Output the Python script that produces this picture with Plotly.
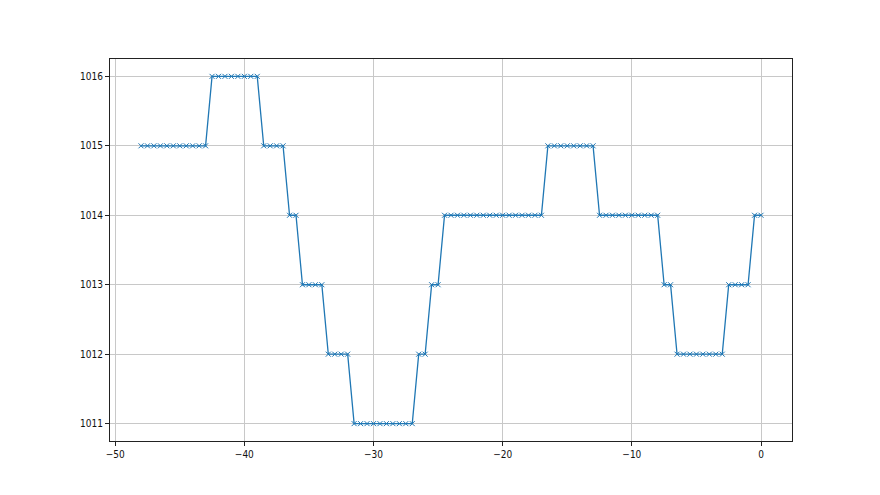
import plotly.graph_objects as go

hours = [-48.0, -47.5, -47.0, -46.5, -46.0, -45.5, -45.0, -44.5, -44.0, -43.5, -43.0,
         -42.5, -42.0, -41.5, -41.0, -40.5, -40.0, -39.5, -39.0,
         -38.5, -38.0, -37.5, -37.0,
         -36.5, -36.0,
         -35.5, -35.0, -34.5, -34.0,
         -33.5, -33.0, -32.5, -32.0,
         -31.5, -31.0, -30.5, -30.0, -29.5, -29.0, -28.5, -28.0, -27.5, -27.0,
         -26.5, -26.0,
         -25.5, -25.0,
         -24.5, -24.0, -23.5, -23.0, -22.5, -22.0, -21.5, -21.0, -20.5, -20.0,
         -19.5, -19.0, -18.5, -18.0, -17.5, -17.0,
         -16.5, -16.0, -15.5, -15.0, -14.5, -14.0, -13.5, -13.0,
         -12.5, -12.0, -11.5, -11.0, -10.5, -10.0, -9.5, -9.0, -8.5, -8.0,
         -7.5, -7.0,
         -6.5, -6.0, -5.5, -5.0, -4.5, -4.0, -3.5, -3.0,
         -2.5, -2.0, -1.5, -1.0,
         -0.5, 0.0]

pressure = [1015, 1015, 1015, 1015, 1015, 1015, 1015, 1015, 1015, 1015, 1015,
            1016, 1016, 1016, 1016, 1016, 1016, 1016, 1016,
            1015, 1015, 1015, 1015,
            1014, 1014,
            1013, 1013, 1013, 1013,
            1012, 1012, 1012, 1012,
            1011, 1011, 1011, 1011, 1011, 1011, 1011, 1011, 1011, 1011,
            1012, 1012,
            1013, 1013,
            1014, 1014, 1014, 1014, 1014, 1014, 1014, 1014, 1014, 1014,
            1014, 1014, 1014, 1014, 1014, 1014,
            1015, 1015, 1015, 1015, 1015, 1015, 1015, 1015,
            1014, 1014, 1014, 1014, 1014, 1014, 1014, 1014, 1014, 1014,
            1013, 1013,
            1012, 1012, 1012, 1012, 1012, 1012, 1012, 1012,
            1013, 1013, 1013, 1013,
            1014, 1014]

x_ticks = [-50, -40, -30, -20, -10, 0]
y_ticks = [1011, 1012, 1013, 1014, 1015, 1016]

fig = go.Figure()
fig.add_trace(go.Scatter(
    x=hours, y=pressure, mode="lines+markers",
    line=dict(color="#1f77b4", width=1.3),
    marker=dict(symbol="x-thin", size=5, line=dict(color="#1f77b4", width=1)),
    showlegend=False,
))

axis_common = dict(
    showgrid=True, gridcolor="#c8c8c8", gridwidth=1,
    showline=True, linecolor="#222222", linewidth=1, mirror=True,
    ticks="outside", ticklen=4, tickcolor="#222222", tickwidth=1,
    zeroline=False,
    tickfont=dict(family="Liberation Sans Narrow, DejaVu Sans Condensed, Liberation Sans",
                  size=10, color="#111111"),
)

fig.update_layout(
    width=880, height=495,
    margin=dict(l=102, r=96, t=51, b=62),
    paper_bgcolor="white", plot_bgcolor="white",
    xaxis=dict(range=[-50.4, 2.4], tickvals=x_ticks,
               ticktext=[str(v).replace("-", "\u2212") for v in x_ticks], **axis_common),
    yaxis=dict(range=[1010.75, 1016.25], tickvals=y_ticks,
               ticktext=[str(v) for v in y_ticks], **axis_common),
)

fig.write_html("out.html")
